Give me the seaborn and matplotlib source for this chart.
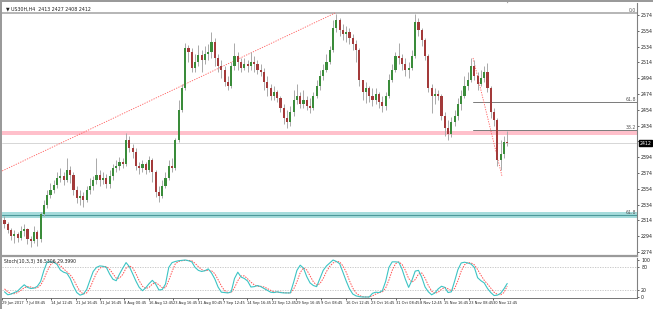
import numpy as np
import pandas as pd
import matplotlib
matplotlib.use("Agg")
import matplotlib.pyplot as plt
from matplotlib.patches import Rectangle
import matplotlib.transforms as mtransforms
from matplotlib import font_manager
import seaborn as sns

# ---------------- data ----------------
title_text = "\u25BC US30H,H4  2413 2427 2408 2412"
stoch_title = "Stoch(10,3,3) 36.5306 29.3990"

first_open = 2314
close = [2309, 2302, 2294, 2297, 2292, 2301, 2303, 2290, 2288, 2299,
         2290, 2322, 2333, 2346, 2352, 2359, 2368, 2370, 2365, 2378,
         2371, 2352, 2342, 2345, 2340, 2352, 2358, 2365, 2371, 2365,
         2368, 2360, 2370, 2380, 2383, 2388, 2385, 2416, 2406, 2401,
         2383, 2380, 2385, 2378, 2390, 2375, 2350, 2345, 2358, 2368,
         2383, 2380, 2416, 2454, 2482, 2532, 2527, 2507, 2515, 2523,
         2517, 2525, 2527, 2540, 2520, 2509, 2504, 2489, 2484, 2509,
         2522, 2515, 2507, 2512, 2509, 2515, 2512, 2504, 2502, 2489,
         2482, 2471, 2477, 2469, 2456, 2444, 2439, 2451, 2466, 2471,
         2461, 2466, 2459, 2456, 2471, 2484, 2497, 2504, 2515, 2530,
         2558, 2568, 2555, 2550, 2553, 2545, 2537, 2530, 2492, 2477,
         2482, 2471, 2466, 2474, 2464, 2459, 2471, 2492, 2504, 2522,
         2520, 2512, 2504, 2507, 2522, 2565, 2555, 2542, 2522, 2482,
         2471, 2474, 2471, 2446, 2431, 2423, 2439, 2446, 2461, 2471,
         2484, 2492, 2509, 2497, 2487, 2494, 2502, 2482, 2451, 2441,
         2390, 2398, 2413, 2412]
high = [2320, 2312, 2304, 2302, 2299, 2307, 2309, 2304, 2294, 2307,
        2302, 2325, 2340, 2352, 2361, 2365, 2375, 2380, 2375, 2393,
        2383, 2375, 2358, 2352, 2350, 2358, 2368, 2370, 2393, 2378,
        2375, 2373, 2378, 2385, 2390, 2394, 2393, 2425, 2421, 2411,
        2406, 2388, 2390, 2388, 2396, 2393, 2378, 2358, 2365, 2375,
        2390, 2393, 2418, 2466, 2487, 2539, 2536, 2532, 2525, 2536,
        2530, 2535, 2537, 2553, 2545, 2525, 2517, 2509, 2497, 2515,
        2539, 2527, 2520, 2520, 2517, 2527, 2522, 2517, 2512, 2507,
        2497, 2487, 2484, 2479, 2471, 2461, 2454, 2459, 2479, 2487,
        2477, 2479, 2471, 2469, 2477, 2492, 2504, 2512, 2525, 2535,
        2568, 2575, 2570, 2563, 2560, 2558, 2550, 2542, 2532, 2492,
        2489, 2484, 2482, 2482, 2477, 2471, 2477, 2499, 2512, 2527,
        2539, 2525, 2520, 2515, 2530, 2575, 2570, 2558, 2545, 2525,
        2487, 2482, 2479, 2474, 2451, 2441, 2445, 2454, 2469, 2479,
        2497, 2502, 2520, 2517, 2502, 2504, 2509, 2513, 2484, 2456,
        2444, 2416, 2421, 2427]
low = [2304, 2298, 2289, 2285, 2287, 2289, 2294, 2284, 2280, 2285,
       2282, 2287, 2320, 2330, 2342, 2349, 2355, 2363, 2359, 2363,
       2361, 2346, 2336, 2333, 2331, 2337, 2347, 2352, 2360, 2358,
       2360, 2355, 2355, 2365, 2375, 2378, 2380, 2383, 2401, 2393,
       2378, 2373, 2375, 2373, 2375, 2363, 2344, 2337, 2342, 2355,
       2365, 2375, 2378, 2413, 2451, 2479, 2515, 2502, 2502, 2509,
       2502, 2512, 2517, 2520, 2509, 2502, 2494, 2484, 2479, 2482,
       2504, 2504, 2502, 2504, 2502, 2504, 2502, 2499, 2497, 2479,
       2471, 2466, 2466, 2464, 2451, 2436, 2431, 2433, 2446, 2461,
       2456, 2456, 2454, 2450, 2454, 2469, 2479, 2492, 2502, 2512,
       2527, 2553, 2547, 2542, 2540, 2537, 2530, 2515, 2484, 2466,
       2463, 2464, 2459, 2461, 2456, 2451, 2454, 2469, 2489, 2502,
       2512, 2504, 2497, 2494, 2504, 2520, 2547, 2535, 2517, 2477,
       2450, 2461, 2466, 2441, 2421, 2416, 2420, 2433, 2441, 2454,
       2469, 2479, 2489, 2492, 2479, 2484, 2489, 2477, 2444, 2433,
       2383, 2378, 2393, 2408]

stoch_main = [14, 6, 8, 12, 16, 25, 33, 26, 23, 24,
              29, 42, 72, 95, 95, 94, 88, 73, 67, 64,
              50, 29, 12, 5, 8, 20, 45, 69, 80, 84,
              83, 80, 62, 48, 44, 62, 78, 93, 82, 63,
              43, 26, 17, 25, 36, 45, 35, 19, 20, 35,
              80, 93, 96, 98, 99, 100, 98, 95, 80, 72,
              69, 71, 76, 65, 49, 27, 13, 12, 11, 14,
              50, 67, 54, 50, 43, 27, 28, 31, 28, 23,
              18, 13, 12, 14, 12, 11, 11, 11, 40, 72,
              86, 78, 55, 38, 31, 28, 50, 72, 84, 92,
              100, 96, 90, 67, 43, 22, 8, 3, 1, 0,
              0, 0, 10, 13, 12, 17, 42, 80, 95, 95,
              94, 75, 48, 26, 45, 70, 72, 53, 27, 14,
              6, 11, 22, 29, 26, 12, 14, 43, 74, 92,
              94, 92, 89, 80, 52, 44, 38, 23, 12, 4,
              5, 10, 22, 36.53]
stoch_signal = [22, 14, 9, 9, 12, 18, 25, 28, 27, 24,
                25, 32, 48, 70, 87, 95, 92, 85, 76, 68,
                60, 48, 30, 15, 8, 11, 24, 45, 65, 78,
                82, 82, 75, 63, 51, 51, 61, 78, 84, 79,
                63, 44, 29, 23, 26, 35, 39, 33, 25, 25,
                45, 69, 90, 96, 98, 99, 99, 98, 91, 82,
                74, 71, 72, 71, 63, 47, 30, 17, 12, 12,
                25, 44, 57, 57, 49, 40, 33, 29, 29, 27,
                23, 18, 14, 13, 13, 12, 11, 11, 21, 41,
                66, 79, 73, 57, 41, 32, 36, 50, 69, 83,
                92, 96, 95, 84, 67, 44, 24, 11, 4, 1,
                0, 0, 3, 8, 12, 14, 24, 46, 72, 90,
                95, 88, 72, 50, 40, 47, 62, 65, 51, 31,
                16, 10, 13, 21, 26, 22, 17, 23, 44, 70,
                87, 93, 92, 87, 74, 59, 45, 35, 24, 13,
                7, 6, 12, 29.40]

price_ticks = [2574, 2554, 2534, 2514, 2494, 2474, 2454, 2434, 2414,
               2394, 2374, 2354, 2334, 2314, 2294, 2274]
price_tick_labels = ["2574", "2554", "2534", "2514", "2494", "2474", "2454", "2434", "",
                     "2394", "2374", "2354", "2334", "2314", "2294", "2274"]
last_price = 2412

date_labels = ["29 Jun 2017", "7 Jul 08:45", "14 Jul 12:45", "21 Jul 16:45",
               "31 Jul 16:45", "8 Aug 00:45", "16 Aug 12:45", "23 Aug 16:45",
               "31 Aug 00:45", "7 Sep 12:45", "14 Sep 16:45", "22 Sep 12:45",
               "29 Sep 16:45", "9 Oct 08:45", "16 Oct 12:45", "23 Oct 16:45",
               "31 Oct 08:45", "8 Nov 12:45", "15 Nov 16:45", "23 Nov 08:45",
               "30 Nov 12:45"]
date_label_bars = [-0.7, 6.5, 14.2, 21.8, 29.1, 36.4, 44.0, 51.3, 58.9, 66.5,
                   73.8, 81.4, 88.7, 96.3, 103.9, 111.6, 119.2, 126.5, 133.8,
                   141.4, 148.7]

# drawn objects (levels / trendlines), in bar index and price
fib_top_level = 2576.5
fib_top_label = "0.0"
fib2_levels = [2464, 2428.5]
fib2_labels = ["61.8", "38.2"]
fib2_start_bar = 142.6
pink_zone = [2422.0, 2427.2]
teal_zone = [2317.5, 2325.0]
teal_level = 2320.8
teal_label = "61.8"
trend1_bars = [-1.4, 100.6]
trend1_prices = [2375.3, 2576.5]
trend2_bars = [142.6, 151.4]
trend2_prices = [2519.6, 2370.2]
stoch_levels = [80, 20]
stoch_ticks = [100, 80, 20, 0]

# ---------------- figure ----------------
sns.set_style("white")
plt.rcParams['font.family'] = ['DejaVu Sans']
names = {f.name for f in font_manager.fontManager.ttflist}
small_family = ['Liberation Sans Narrow'] if 'Liberation Sans Narrow' in names else ['DejaVu Sans']

W, H = 653, 309
fig = plt.figure(figsize=(W / 100, H / 100), dpi=100)
fig.patch.set_facecolor("white")


def frac(x0, y0, x1, y1):
    return [x0 / W, 1 - y1 / H, (x1 - x0) / W, (y1 - y0) / H]


ax = fig.add_axes(frac(2, 3, 637, 256))
axs = fig.add_axes(frac(2, 258, 637, 298))

n = len(close)
bars = np.arange(n)
opens = [first_open] + close[:-1]
df = pd.DataFrame({"bar": bars, "open": opens, "high": high, "low": low, "close": close})
df["up"] = df["close"] >= df["open"]

bull_col = "#3a8c3a"
bear_col = "#a33a3a"
wick_col = "#a9a9a9"

# zones and levels
ax.axhspan(pink_zone[0], pink_zone[1], color="#ffc0cb", lw=0, zorder=1)
ax.axhspan(teal_zone[0], teal_zone[1], color="#a6dcdc", lw=0, zorder=1)
ax.axhline(teal_level, color="#4c9a9a", lw=0.8, zorder=2)
ax.axhline(fib_top_level, color="#b0b0b0", lw=1.3, zorder=2)
ax.axhline(last_price, color="#d0d0d0", lw=0.6, zorder=1)
for lv in fib2_levels:
    ax.plot([fib2_start_bar, 200], [lv, lv], color="#7a7a7a", lw=0.7, zorder=2)

# trendlines
ax.plot(trend1_bars, trend1_prices, color="#ff5a5a", lw=0.6, ls=(0, (1.5, 1.5)), zorder=2)
ax.plot(trend2_bars, trend2_prices, color="#ff5a5a", lw=0.6, ls=(0, (1.5, 1.5)), zorder=2)

# candles
ax.vlines(df["bar"], df["low"], df["high"], color=wick_col, lw=0.7, zorder=3)
body_h = (df["close"] - df["open"]).abs().clip(lower=0.8)
body_b = df[["open", "close"]].min(axis=1)
ax.bar(df["bar"], body_h, bottom=body_b, width=0.62,
       color=np.where(df["up"], bull_col, bear_col), lw=0, zorder=4)

ax.set_xlim(-0.76, 192.5)
ax.set_ylim(2269.0, 2589.2)

# fib labels
trans = mtransforms.blended_transform_factory(ax.transAxes, ax.transData)
lab_kw = dict(fontsize=3.3, color="#555555", ha="right", va="bottom", transform=trans,
              family=small_family)
ax.text(0.998, fib_top_level, fib_top_label, **lab_kw)
for lv, lb in zip(fib2_levels, fib2_labels):
    ax.text(0.998, lv, lb, **lab_kw)
ax.text(0.998, teal_level, teal_label, **lab_kw)

# axes styling (main)
ax.yaxis.tick_right()
ax.set_yticks(price_ticks)
ax.set_yticklabels(price_tick_labels, family=small_family)
ax.tick_params(axis="y", which="both", right=True, length=1.5, width=0.5,
               pad=1.5, labelsize=3.4, colors="#222222")
ax.tick_params(axis="x", bottom=False, labelbottom=False)
for s in ["top", "left"]:
    ax.spines[s].set_visible(False)
ax.spines["right"].set_color("#808080")
ax.spines["right"].set_linewidth(0.8)
ax.spines["bottom"].set_color("#9a9a9a")
ax.spines["bottom"].set_linewidth(1.6)
ax.set_xlabel("")
ax.set_ylabel("")

# price box
ax.annotate(str(last_price), xy=(1.004, last_price), xycoords=trans,
            fontsize=3.3, color="white", va="center", ha="left", family=small_family,
            bbox=dict(boxstyle="square,pad=0.2", fc="black", ec="black"))

ax.text(0.006, 0.985, title_text, transform=ax.transAxes, fontsize=3.4,
        color="#222222", ha="left", va="top")

# ---------------- stochastic ----------------
sdf = pd.DataFrame({"bar": bars, "main": stoch_main, "signal": stoch_signal})
for lv in stoch_levels:
    axs.axhline(lv, color="#c0c0c0", lw=0.6, ls=(0, (1.5, 1.5)), zorder=1)
sns.lineplot(data=sdf, x="bar", y="main", ax=axs, color="#3cc4c4", lw=0.8, zorder=3)
sns.lineplot(data=sdf, x="bar", y="signal", ax=axs, color="#ff5050", lw=0.7, zorder=2)
axs.lines[-1].set_linestyle((0, (1.5, 1.2)))
axs.set_xlim(-0.76, 192.5)
axs.set_ylim(-2.7, 105.4)
axs.set_xlabel("")
axs.set_ylabel("")
axs.yaxis.tick_right()
axs.set_yticks(stoch_ticks)
axs.set_yticklabels([str(t) for t in stoch_ticks], family=small_family)
axs.tick_params(axis="y", right=True, length=1.5, width=0.5, pad=1.5,
                labelsize=3.4, colors="#222222")
axs.set_xticks(date_label_bars)
axs.set_xticklabels(date_labels, family=small_family)
axs.tick_params(axis="x", bottom=True, length=1.5, width=0.5, pad=1.0,
                labelsize=2.6, colors="#222222")
for lbl in axs.get_xticklabels():
    lbl.set_ha("left")
axs.spines["top"].set_visible(False)
axs.spines["left"].set_visible(False)
axs.spines["right"].set_color("#808080")
axs.spines["right"].set_linewidth(0.8)
axs.spines["bottom"].set_color("#606060")
axs.spines["bottom"].set_linewidth(0.6)
axs.text(0.003, 0.98, stoch_title, transform=axs.transAxes, fontsize=3.3,
         color="#222222", ha="left", va="top")

# window borders
fig.patches.append(Rectangle((0, 0), 2 / W, 1, transform=fig.transFigure,
                             color="#9a9a9a", lw=0, zorder=10))
fig.patches.append(Rectangle((0, 1 - 1.5 / H), 1, 1.5 / H, transform=fig.transFigure,
                             color="#9a9a9a", lw=0, zorder=10))
fig.text(508 / W, 1 - 2.5 / H, "\u25BC", fontsize=3, color="#9a9a9a",
         ha="center", va="center")

fig.savefig("out.png", dpi=100)
